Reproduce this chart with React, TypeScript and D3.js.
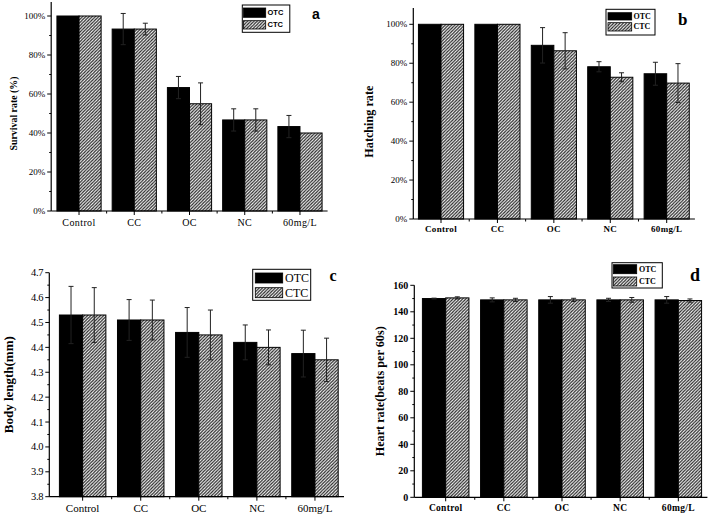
import React from "react";
import * as d3 from "d3";

// ---------- DATA ----------
const categories = ["Control", "CC", "OC", "NC", "60mg/L"];
const seriesNames = ["OTC", "CTC"];

const survivalOTC = [100, 93.3, 63.3, 46.7, 43.3];
const survivalCTC = [100, 93.3, 55, 46.7, 40];
const survivalOTCErr = [0, 8, 5.7, 5.7, 5.7];
const survivalCTCErr = [0, 3, 10.7, 5.7, 0];

const hatchingOTC = [100, 100, 89.2, 78.2, 74.6];
const hatchingCTC = [100, 100, 86.4, 72.8, 69.8];
const hatchingOTCErr = [0, 0, 9.1, 2.6, 5.9];
const hatchingCTCErr = [0, 0, 9.3, 2.3, 10];

const bodyOTC = [4.53, 4.51, 4.46, 4.42, 4.375];
const bodyCTC = [4.53, 4.51, 4.45, 4.4, 4.35];
const bodyOTCErr = [0.115, 0.082, 0.1, 0.07, 0.094];
const bodyCTCErr = [0.11, 0.08, 0.1, 0.07, 0.087];

const heartOTC = [150, 149, 149, 149, 149];
const heartCTC = [150.5, 149, 149, 149, 148.5];
const heartOTCErr = [0.3, 1.5, 2.5, 1.2, 2.5];
const heartCTCErr = [0.8, 1.2, 1.2, 1.8, 1.2];

const survivalTicks = [0, 20, 40, 60, 80, 100];
const hatchingTicks = [0, 20, 40, 60, 80, 100];
const bodyTicks = [3.8, 3.9, 4.0, 4.1, 4.2, 4.3, 4.4, 4.5, 4.6, 4.7];
const heartTicks = [0, 20, 40, 60, 80, 100, 120, 140, 160];

const SERIF = "'Liberation Serif', 'Times New Roman', serif";
const SANS = "'Liberation Sans', Arial, sans-serif";

type Font = { family: string; size: number; weight: string | number; ls?: number };

interface PanelCfg {
  letter: string;
  otc: number[];
  ctc: number[];
  otcErr: number[];
  ctcErr: number[];
  yLabel: string;
  domain: [number, number];
  yRange: [number, number];
  axisTop: number;
  yAxisX: number;
  xRange: [number, number];
  ticks: number[];
  minorStep: number;
  fmt: (v: number) => string;
  tickFont: Font;
  catFont: Font;
  catY: number;
  yLabelX: number;
  yLabelFont: Font;
  yLabelLen: number;
  legend: { x: number; y: number; w: number; h: number; sx: number; sw: number; r1: [number, number]; r2: [number, number]; tx: number; font: Font };
  letterPos: { x: number; y: number; font: Font };
}

const panels: PanelCfg[] = [
  {
    letter: "a",
    otc: survivalOTC, ctc: survivalCTC, otcErr: survivalOTCErr, ctcErr: survivalCTCErr,
    yLabel: "Survival rate (%)",
    domain: [0, 100], yRange: [211, 16], axisTop: 2, yAxisX: 51.2, xRange: [51.4, 327.6],
    ticks: survivalTicks, minorStep: 10, fmt: (v) => `${v}%`,
    tickFont: { family: SERIF, size: 9, weight: "normal" },
    catFont: { family: SERIF, size: 10, weight: "normal", ls: 0.4 },
    catY: 226,
    yLabelX: 12.5, yLabelFont: { family: SERIF, size: 11, weight: "bold" }, yLabelLen: 74,
    legend: { x: 242.3, y: 5, w: 47.5, h: 27.3, sx: 243.5, sw: 22.2, r1: [8, 17.3], r2: [20.7, 29], tx: 267.5, font: { family: SANS, size: 7.5, weight: "bold" } },
    letterPos: { x: 312, y: 19, font: { family: SANS, size: 14, weight: "bold" } },
  },
  {
    letter: "b",
    otc: hatchingOTC, ctc: hatchingCTC, otcErr: hatchingOTCErr, ctcErr: hatchingCTCErr,
    yLabel: "Hatching rate",
    domain: [0, 100], yRange: [219, 24.3], axisTop: 8, yAxisX: 413.3, xRange: [412.8, 694.9],
    ticks: hatchingTicks, minorStep: 10, fmt: (v) => `${v}%`,
    tickFont: { family: SERIF, size: 9, weight: "normal" },
    catFont: { family: SERIF, size: 9, weight: "bold", ls: 0.3 },
    catY: 232,
    yLabelX: 368.5, yLabelFont: { family: SERIF, size: 12, weight: "bold" }, yLabelLen: 72,
    legend: { x: 606, y: 9.3, w: 49, h: 25.7, sx: 608, sw: 23.7, r1: [12.7, 20], r2: [22.7, 31], tx: 633.5, font: { family: SERIF, size: 8, weight: "bold" } },
    letterPos: { x: 678, y: 25, font: { family: SERIF, size: 17, weight: "bold" } },
  },
  {
    letter: "c",
    otc: bodyOTC, ctc: bodyCTC, otcErr: bodyOTCErr, ctcErr: bodyCTCErr,
    yLabel: "Body length(mm)",
    domain: [3.8, 4.7], yRange: [496.7, 272.7], axisTop: 272.7, yAxisX: 49.3, xRange: [53.6, 344],
    ticks: bodyTicks, minorStep: 0.05, fmt: (v) => d3.format(".1f")(v),
    tickFont: { family: SERIF, size: 10.5, weight: "normal", ls: -0.3 },
    catFont: { family: SERIF, size: 11, weight: "normal" },
    catY: 512,
    yLabelX: 8.5, yLabelFont: { family: SERIF, size: 12, weight: "bold" }, yLabelLen: 97,
    legend: { x: 252.7, y: 269.3, w: 58, h: 31, sx: 255.3, sw: 27.4, r1: [273, 283], r2: [287.7, 297.7], tx: 285, font: { family: SERIF, size: 12, weight: "normal" } },
    letterPos: { x: 329.5, y: 281.3, font: { family: SERIF, size: 16, weight: "bold" } },
  },
  {
    letter: "d",
    otc: heartOTC, ctc: heartCTC, otcErr: heartOTCErr, ctcErr: heartCTCErr,
    yLabel: "Heart rate(beats per 60s)",
    domain: [0, 160], yRange: [497.3, 285.3], axisTop: 285.3, yAxisX: 414.3, xRange: [416.6, 707.4],
    ticks: heartTicks, minorStep: 10, fmt: (v) => `${v}`,
    tickFont: { family: SERIF, size: 10, weight: "bold" },
    catFont: { family: SERIF, size: 9.5, weight: "bold", ls: 0.3 },
    catY: 511,
    yLabelX: 380, yLabelFont: { family: SERIF, size: 11.5, weight: "bold" }, yLabelLen: 130,
    legend: { x: 612, y: 262.7, w: 50.3, h: 25.3, sx: 613.3, sw: 23.4, r1: [264.7, 273.7], r2: [277, 286], tx: 639, font: { family: SERIF, size: 8, weight: "bold" } },
    letterPos: { x: 690, y: 281.3, font: { family: SERIF, size: 18, weight: "bold" } },
  },
];

const fontProps = (f: Font) => ({
  fontFamily: f.family,
  fontSize: f.size,
  fontWeight: f.weight as any,
  letterSpacing: f.ls ?? 0,
});

function Panel({ cfg }: { cfg: PanelCfg }) {
  const x = d3.scaleBand<string>().domain(categories).range(cfg.xRange).paddingInner(0.2).paddingOuter(0.1);
  const xs = d3.scaleBand<string>().domain(seriesNames).range([0, x.bandwidth()]);
  const y = d3.scaleLinear().domain(cfg.domain).range(cfg.yRange);
  const base = cfg.yRange[0];
  const step = x.step();

  const minor: number[] = [];
  const nMinor = Math.round((cfg.domain[1] - cfg.domain[0]) / cfg.minorStep);
  for (let i = 0; i <= nMinor; i++) {
    const v = cfg.domain[0] + i * cfg.minorStep;
    if (!cfg.ticks.some((t) => Math.abs(t - v) < 1e-9)) minor.push(v);
  }

  const series = [
    { name: "OTC", vals: cfg.otc, errs: cfg.otcErr, fill: "#000" },
    { name: "CTC", vals: cfg.ctc, errs: cfg.ctcErr, fill: "url(#hatch)" },
  ];

  const xEnd = cfg.xRange[1];

  return (
    <g>
      {/* bars */}
      {series.map((s) =>
        categories.map((c, i) => {
          const x0 = (x(c) ?? 0) + (xs(s.name) ?? 0);
          const yTop = y(s.vals[i]);
          return (
            <rect key={s.name + c} x={x0} y={yTop} width={xs.bandwidth()} height={base - yTop}
              fill={s.fill} stroke="#000" strokeWidth={1} />
          );
        })
      )}
      {/* error bars */}
      {series.map((s) =>
        categories.map((c, i) => {
          if (!s.errs[i]) return null;
          const cx = (x(c) ?? 0) + (xs(s.name) ?? 0) + xs.bandwidth() / 2;
          const yHi = y(s.vals[i] + s.errs[i]);
          const yLo = y(s.vals[i] - s.errs[i]);
          return (
            <g key={"e" + s.name + c} stroke="#222" strokeWidth={1}>
              <line x1={cx} x2={cx} y1={yHi} y2={yLo} />
              <line x1={cx - 2.5} x2={cx + 2.5} y1={yHi} y2={yHi} />
              <line x1={cx - 2.5} x2={cx + 2.5} y1={yLo} y2={yLo} />
            </g>
          );
        })
      )}
      {/* y axis */}
      <line x1={cfg.yAxisX} x2={cfg.yAxisX} y1={cfg.axisTop} y2={base} stroke="#000" strokeWidth={1.2} />
      {cfg.ticks.map((t) => (
        <g key={"t" + t}>
          <line x1={cfg.yAxisX - 4} x2={cfg.yAxisX} y1={y(t)} y2={y(t)} stroke="#000" strokeWidth={1} />
          <text x={cfg.yAxisX - 6} y={y(t)} textAnchor="end" dominantBaseline="central" {...fontProps(cfg.tickFont)}>
            {cfg.fmt(t)}
          </text>
        </g>
      ))}
      {minor.map((t) => (
        <line key={"m" + t} x1={cfg.yAxisX - 2} x2={cfg.yAxisX} y1={y(t)} y2={y(t)} stroke="#000" strokeWidth={1} />
      ))}
      {/* x axis */}
      <line x1={cfg.yAxisX} x2={xEnd} y1={base} y2={base} stroke="#000" strokeWidth={1.2} />
      {categories.map((c, i) => {
        const cx = (x(c) ?? 0) + x.bandwidth() / 2;
        const bx = (x(c) ?? 0) - (step - x.bandwidth()) / 2;
        return (
          <g key={"x" + c}>
            <line x1={cx} x2={cx} y1={base} y2={base + 4} stroke="#000" />
            {i > 0 && <line x1={bx} x2={bx} y1={base} y2={base + 2.5} stroke="#000" />}
            <text x={cx} y={cfg.catY} textAnchor="middle" {...fontProps(cfg.catFont)}>{c}</text>
          </g>
        );
      })}
      {/* y label */}
      <text
        transform={`translate(${cfg.yLabelX},${(cfg.yRange[0] + cfg.yRange[1]) / 2}) rotate(-90)`}
        textAnchor="middle" dominantBaseline="central"
        textLength={cfg.yLabelLen} lengthAdjust="spacingAndGlyphs"
        {...fontProps(cfg.yLabelFont)}
      >
        {cfg.yLabel}
      </text>
      {/* legend */}
      <rect x={cfg.legend.x} y={cfg.legend.y} width={cfg.legend.w} height={cfg.legend.h} fill="#fff" stroke="#000" strokeWidth={1} />
      <rect x={cfg.legend.sx} y={cfg.legend.r1[0]} width={cfg.legend.sw} height={cfg.legend.r1[1] - cfg.legend.r1[0]} fill="#000" stroke="#000" strokeWidth={0.8} />
      <rect x={cfg.legend.sx} y={cfg.legend.r2[0]} width={cfg.legend.sw} height={cfg.legend.r2[1] - cfg.legend.r2[0]} fill="url(#hatch)" stroke="#000" strokeWidth={0.8} />
      {seriesNames.map((n, i) => {
        const r = i === 0 ? cfg.legend.r1 : cfg.legend.r2;
        return (
          <text key={"l" + n} x={cfg.legend.tx} y={(r[0] + r[1]) / 2} dominantBaseline="central" {...fontProps(cfg.legend.font)}>
            {n}
          </text>
        );
      })}
      <text x={cfg.letterPos.x} y={cfg.letterPos.y} {...fontProps(cfg.letterPos.font)}>{cfg.letter}</text>
    </g>
  );
}

export default function App() {
  return (
    <svg width={710} height={515} viewBox="0 0 710 515"
      style={{ position: "absolute", left: 0, top: 0, background: "#fff" }}>
      <defs>
        <pattern id="hatch" patternUnits="userSpaceOnUse" width={3.2} height={3.2}>
          <rect width={3.2} height={3.2} fill="#fff" />
          <path d="M-0.8,0.8 L0.8,-0.8 M0,3.2 L3.2,0 M2.4,4 L4,2.4" stroke="#222" strokeWidth={1.2} />
        </pattern>
      </defs>
      <rect width={710} height={515} fill="#fff" />
      {panels.map((p) => (
        <Panel key={p.letter} cfg={p} />
      ))}
    </svg>
  );
}
